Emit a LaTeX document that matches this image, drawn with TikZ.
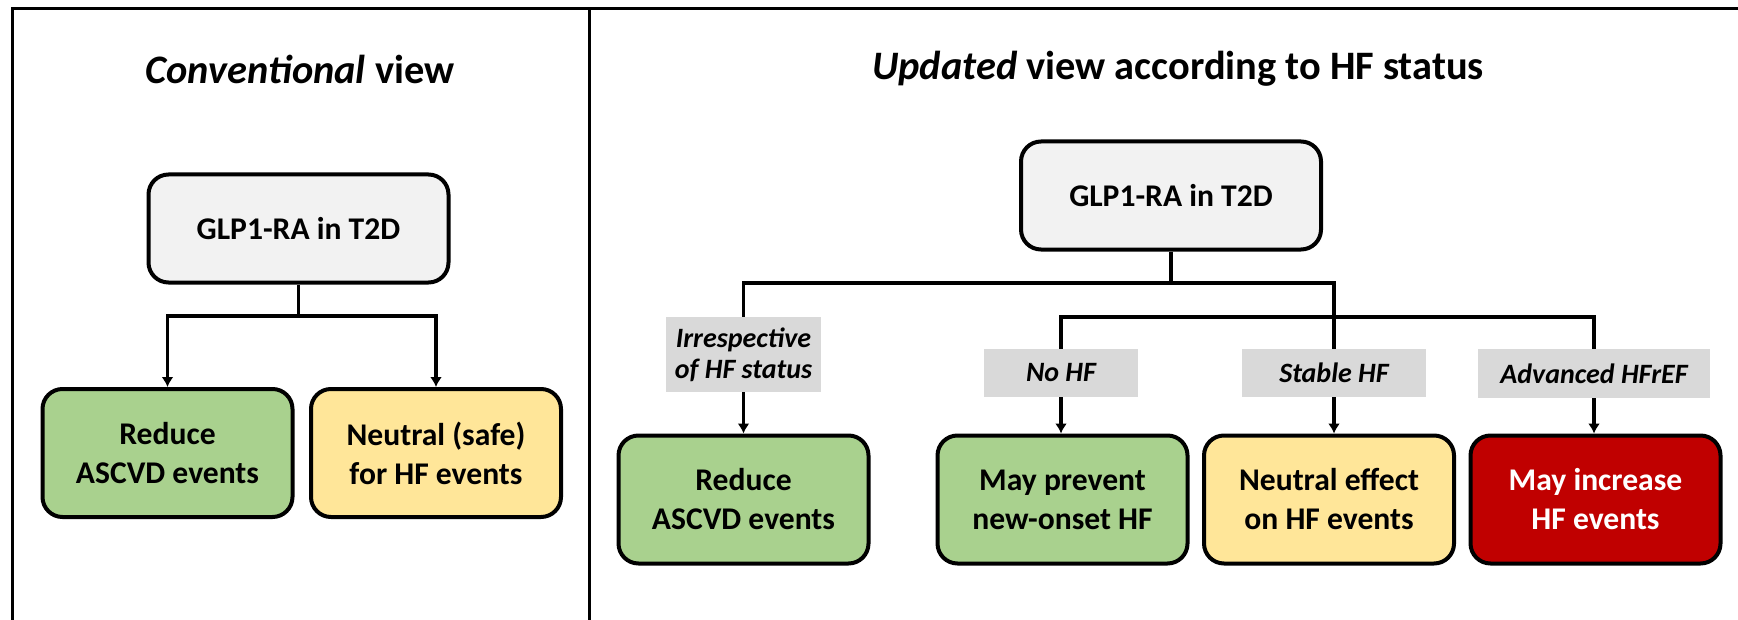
\documentclass[tikz,border=0pt]{standalone}
\usepackage{fontspec}
\setmainfont{Carlito}
\usepackage{xcolor}
\usepackage{tikz}
\usetikzlibrary{arrows.meta}
\definecolor{boxgreen}{HTML}{A9D18E}
\definecolor{boxyellow}{HTML}{FFE699}
\definecolor{boxred}{HTML}{C00000}
\definecolor{boxgray}{HTML}{F2F2F2}
\definecolor{taggray}{HTML}{D9D9D9}
\tikzset{
  outcome/.style={draw,line width=2pt,rounded corners=10pt,minimum width=125pt,
    minimum height=64pt,inner sep=0pt,align=center,
    font=\fontsize{15.8}{19.5}\selectfont\bfseries},
  drug/.style={outcome,fill=boxgray,minimum width=150pt,minimum height=54pt},
  tag/.style={fill=taggray,inner sep=0pt,align=center,
    font=\fontsize{14}{15.5}\selectfont\bfseries\itshape},
  heading/.style={font=\fontsize{20.2}{24}\selectfont\bfseries},
  link/.style={line width=1.6pt},
  frame/.style={line width=1.5pt}
}

\begin{document}
\begin{tikzpicture}[x=0.5pt,y=-0.5pt,>={Latex[length=5pt,width=6pt]}]
\useasboundingbox (0,0) rectangle (1738,620);

% Panel frame
\draw[frame] (12,620) -- (12,9) -- (1738,9);
\draw[frame] (589,9) -- (589,620);

% Conventional view
\node[heading] (titleL) at (300,69) {\textit{Conventional} view};
\node[drug] (glpL) at (298.5,228.5) {GLP1-RA in T2D};
\node[outcome,fill=boxgreen] (ascvdL) at (167.5,453) {Reduce\\ASCVD events};
\node[outcome,fill=boxyellow] (neutralL) at (436,453) {Neutral (safe)\\for HF events};
\coordinate (splitL) at (298.5,316);
\draw[link] (glpL.south) -- (splitL);
\draw[link,->] (splitL) -| (ascvdL.north);
\draw[link,->] (splitL) -| (neutralL.north);

% Updated view
\node[heading] (titleR) at (1178,69) {\textit{Updated} view according to HF status};
\node[drug] (glpR) at (1171,195.5) {GLP1-RA in T2D};

% HF status tags
\node[tag,minimum width=77.5pt,minimum height=37.5pt] (tagAll) at (743.5,354.5) {Irrespective\\of HF status};
\node[tag,minimum width=77pt,minimum height=24pt] (tagNo) at (1061,373) {No HF};
\node[tag,minimum width=92pt,minimum height=24pt] (tagStable) at (1334,373) {Stable HF};
\node[tag,minimum width=116pt,minimum height=24.5pt] (tagAdv) at (1594,373.5) {Advanced HFrEF};

% Outcomes
\node[outcome,fill=boxgreen] (ascvdR) at (743.5,499.5) {Reduce\\ASCVD events};
\node[outcome,fill=boxgreen] (onset) at (1062.5,499.5) {May prevent\\new-onset HF};
\node[outcome,fill=boxyellow] (stable) at (1329,499.5) {Neutral effect\\on HF events};
\node[outcome,fill=boxred,text=white] (increase) at (1595.5,499.5) {May increase\\HF events};

% Branches
\coordinate (splitR) at (1171,283);
\coordinate (forkR) at (1064,317);
\draw[link] (glpR.south) -- (splitR);
\draw[link] (tagAll.north) |- (splitR) -| (tagStable.north);
\draw[link] (tagNo.north) |- (forkR -| tagAdv.north) -- (tagAdv.north);

% Arrows to outcomes
\draw[link,->] (tagAll.south) -- (tagAll.south |- ascvdR.north);
\draw[link,->] (tagNo.south) -- (tagNo.south |- onset.north);
\draw[link,->] (tagStable.south) -- (tagStable.south |- stable.north);
\draw[link,->] (tagAdv.south) -- (tagAdv.south |- increase.north);
\end{tikzpicture}
\end{document}
